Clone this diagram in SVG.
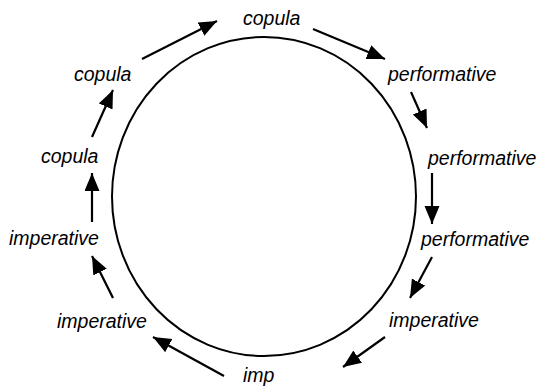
<svg xmlns="http://www.w3.org/2000/svg" width="536" height="386" viewBox="0 0 536 386">
<style>
.t{font-family:"Liberation Sans",Arial,sans-serif;font-style:italic;font-size:19.5px;fill:#000}
.c{fill:none;stroke:#000;stroke-width:2.2;marker-end:url(#ah)}
</style>
<defs>
<marker id="ah" markerUnits="userSpaceOnUse" markerWidth="19" markerHeight="16" refX="18" refY="7.5" orient="auto" viewBox="0 0 19 16">
<path d="M0,0 L18,7.5 L0,15 z" fill="#000"/>
</marker>
</defs>
<rect width="536" height="386" fill="#fff"/>
<g id="cycle"><ellipse cx="264" cy="196.5" rx="152" ry="159.5" fill="none" stroke="#000" stroke-width="2"/></g>
<g id="n1"><text class="t" x="243" y="25">copula</text></g>
<g id="n2"><text class="t" x="388" y="81">performative</text></g>
<g id="n3"><text class="t" x="428" y="165">performative</text></g>
<g id="n4"><text class="t" x="421" y="246">performative</text></g>
<g id="n5"><text class="t" x="389" y="327">imperative</text></g>
<g id="n6"><text class="t" x="243" y="382">imp</text></g>
<g id="n7"><text class="t" x="57" y="328">imperative</text></g>
<g id="n8"><text class="t" x="9" y="245">imperative</text></g>
<g id="n9"><text class="t" x="41" y="163">copula</text></g>
<g id="n10"><text class="t" x="74" y="81">copula</text></g>
<g id="connectors">
<line class="c" x1="142" y1="59" x2="217" y2="21"/>
<line class="c" x1="313" y1="29" x2="385" y2="59"/>
<line class="c" x1="411" y1="92" x2="427" y2="128"/>
<line class="c" x1="432" y1="173" x2="432" y2="224"/>
<line class="c" x1="432" y1="257" x2="410" y2="298"/>
<line class="c" x1="385" y1="337" x2="343" y2="367"/>
<line class="c" x1="224" y1="376" x2="153" y2="337"/>
<line class="c" x1="113" y1="298" x2="92" y2="256"/>
<line class="c" x1="92" y1="222" x2="92" y2="173"/>
<line class="c" x1="92" y1="137" x2="113" y2="90"/>
</g>
</svg>
